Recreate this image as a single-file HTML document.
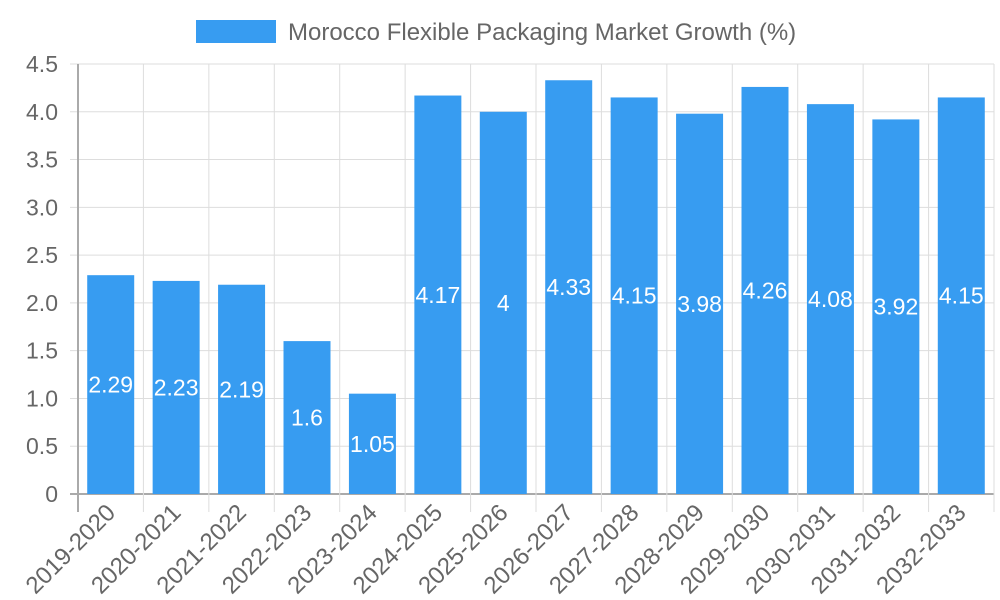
<!DOCTYPE html>
<html><head><meta charset="utf-8"><style>body{margin:0;background:#fff}svg{display:block;font-family:"Liberation Sans",sans-serif}</style></head>
<body>
<svg id="chart" width="1000" height="600">
<g>
<rect x="196" y="20" width="80" height="23" fill="#379cf1"/>
<text x="288" y="40" font-size="24" fill="#666">Morocco Flexible Packaging Market Growth (%)</text>
</g>
<g id="grid"></g><g id="bars"></g><g id="labels"></g>
</svg>
<script>
const categories=["2019-2020","2020-2021","2021-2022","2022-2023","2023-2024","2024-2025","2025-2026","2026-2027","2027-2028","2028-2029","2029-2030","2030-2031","2031-2032","2032-2033"];
const values=[2.29,2.23,2.19,1.6,1.05,4.17,4,4.33,4.15,3.98,4.26,4.08,3.92,4.15];
const yTicks=[0,0.5,1,1.5,2,2.5,3,3.5,4,4.5];
const yTickLabels=["0","0.5","1.0","1.5","2.0","2.5","3.0","3.5","4.0","4.5"];
const NS="http://www.w3.org/2000/svg";
const L=78,R=994,T=64,B=494,yMax=4.5;
const bw=(R-L)/categories.length;
const y=v=>B-(B-T)*v/yMax;
const x=i=>L+bw*i;
function mk(tag,attrs,parent,text){const e=document.createElementNS(NS,tag);for(const k in attrs)e.setAttribute(k,attrs[k]);if(text!=null)e.textContent=text;document.getElementById(parent).appendChild(e);return e;}
yTicks.forEach((t,i)=>{
  const g=mk('line',{x1:L-8,x2:R,y1:y(t),y2:y(t),stroke:i==0?'#aaa':'#ddd','stroke-width':i==0?2:1},'grid');
  
  
  const tl=mk('text',{x:L-20,y:y(t)+8,'text-anchor':'end','font-size':23,fill:'#666'},'grid',yTickLabels[i]);
  
  
});
for(let i=0;i<=categories.length;i++){
  const g=mk('line',{x1:x(i),x2:x(i),y1:T,y2:B+18,stroke:i==0?'#aaa':'#ddd','stroke-width':i==0?2:1},'grid');
  
  
}
categories.forEach((c,i)=>{
  const cx=x(i)+bw/2;
  const r=mk('rect',{x:cx-23.5,y:y(values[i]),width:47,height:B-y(values[i]),fill:'#379cf1'},'bars');
  
  
  const v=mk('text',{x:cx,y:(y(values[i])+B)/2+8,'text-anchor':'middle','font-size':23,fill:'#fff'},'labels',String(values[i]));
  
  
  const tl=mk('text',{x:cx+6,y:514,'text-anchor':'end','font-size':24,fill:'#666',transform:`rotate(-45 ${cx+6} 514)`},'labels',c);
  
  
});
</script>
</body></html>
